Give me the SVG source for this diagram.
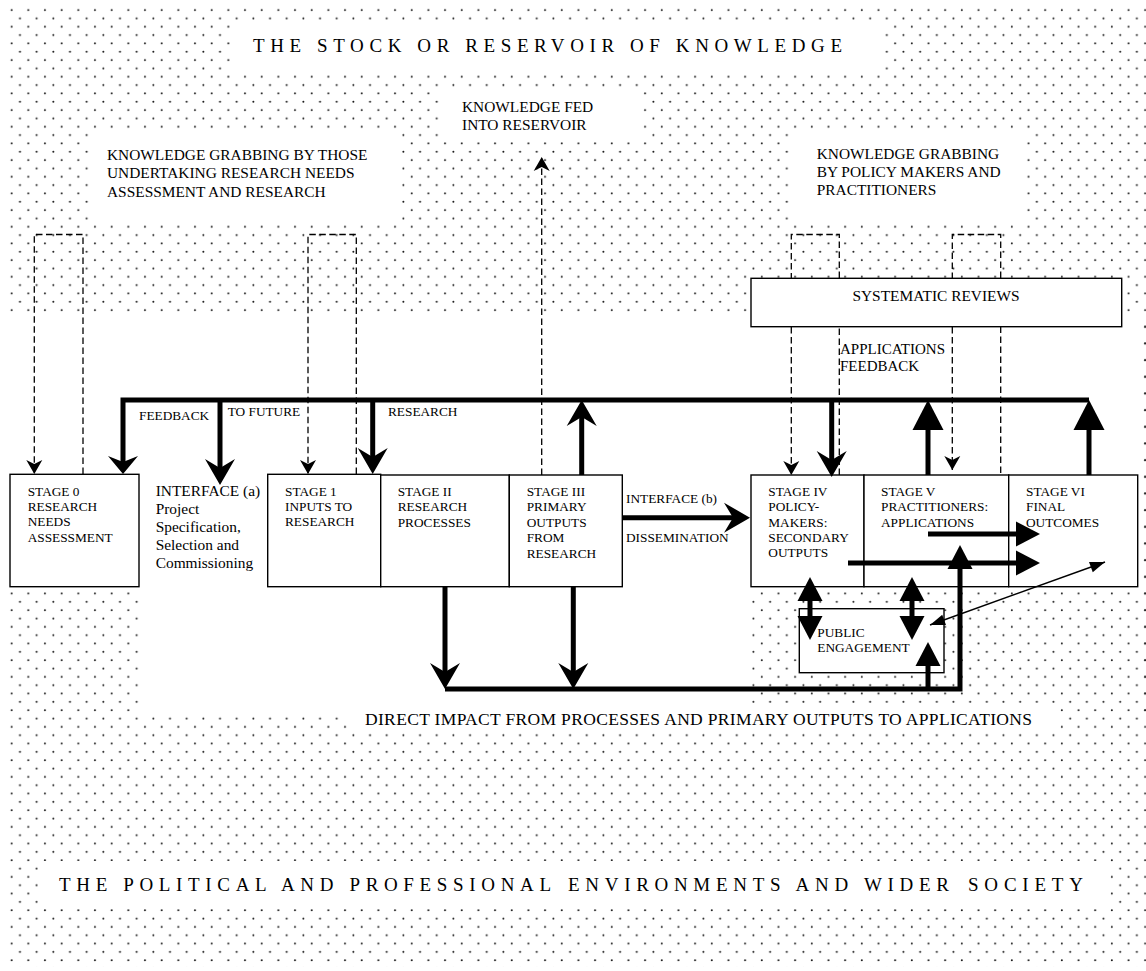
<svg xmlns="http://www.w3.org/2000/svg" width="1146" height="971" viewBox="0 0 1146 971">
<style>
  text { font-family: "Liberation Serif", "Times New Roman", serif; fill: #000; }
  .s13 { font-size: 13.3px; }
  .s15 { font-size: 15.4px; }
  .s17 { font-size: 17.5px; }
  .ttl { font-size: 19px; }
  .box { fill: #fff; stroke: #000; stroke-width: 1.4; }
  .thick { fill: none; stroke: #000; stroke-width: 5; }
  .dash { fill: none; stroke: #000; stroke-width: 1.3; stroke-dasharray: 6.5 3.5; }
  .thin { fill: none; stroke: #000; stroke-width: 1.5; }
  .wh { fill: #fff; }
  .dt { fill: url(#dots); }
</style>
<defs>
  <pattern id="dots" patternUnits="userSpaceOnUse" x="0" y="0" width="16.67" height="16.67">
    <circle cx="3.3" cy="1.65" r="1" fill="#1a1a1a"/>
    <circle cx="11.63" cy="10" r="1" fill="#1a1a1a"/>
  </pattern>
  <marker id="stL" markerUnits="userSpaceOnUse" viewBox="0 -16 28 32" markerWidth="28" markerHeight="32" refX="16" refY="0" orient="auto" overflow="visible">
    <path d="M0,-15 L26,0 L0,15 L9,0 Z" fill="#000"/>
  </marker>
  <marker id="stS" markerUnits="userSpaceOnUse" viewBox="0 -16 20 32" markerWidth="20" markerHeight="32" refX="8" refY="0" orient="auto" overflow="visible">
    <path d="M0,-15 L18,0 L0,15 L6,0 Z" fill="#000"/>
  </marker>
  <marker id="triL" markerUnits="userSpaceOnUse" viewBox="0 -16 31 32" markerWidth="31" markerHeight="32" refX="20" refY="0" orient="auto" overflow="visible">
    <path d="M0,-15.5 L30,0 L0,15.5 Z" fill="#000"/>
  </marker>
  <marker id="triM" markerUnits="userSpaceOnUse" viewBox="0 -13 25 26" markerWidth="25" markerHeight="26" refX="14" refY="0" orient="auto-start-reverse" overflow="visible">
    <path d="M0,-12.5 L24,0 L0,12.5 Z" fill="#000"/>
  </marker>
  <marker id="stD" markerUnits="userSpaceOnUse" viewBox="0 -9 15 18" markerWidth="15" markerHeight="18" refX="14" refY="0" orient="auto" overflow="visible">
    <path d="M0,-8 L14,0 L0,8 L4,0 Z" fill="#000"/>
  </marker>
  <marker id="triS" markerUnits="userSpaceOnUse" viewBox="0 -6 16 12" markerWidth="16" markerHeight="12" refX="15" refY="0" orient="auto-start-reverse" overflow="visible">
    <path d="M0,-5.5 L15,0 L0,5.5 Z" fill="#000"/>
  </marker>
</defs>

<g id="background">
  <rect x="0" y="0" width="1146" height="971" fill="#fff"/>
  <rect class="dt" x="6" y="5" width="1140" height="962"/>
  <rect class="wh" x="233" y="22" width="652" height="52"/>
  <rect class="wh" x="90" y="133" width="307" height="88"/>
  <rect class="wh" x="443" y="90" width="198" height="49"/>
  <rect class="wh" x="793" y="133" width="232" height="88"/>
  <rect class="wh" x="0" y="313" width="1141" height="399"/>
  <rect class="dt" x="6" y="587" width="136" height="125"/>
  <rect class="dt" x="750" y="587" width="396" height="125"/>
  <rect class="dt" x="1141" y="313" width="5" height="274"/>
  <rect class="wh" x="347" y="703" width="713" height="27"/>
  <rect class="wh" x="38" y="861" width="1070" height="47"/>
</g>

<g id="labels">
  <text class="ttl" x="253" y="52" textLength="589" lengthAdjust="spacing">THE STOCK OR RESERVOIR OF KNOWLEDGE</text>
  <g id="kg-left" class="s15">
    <text x="107" y="160">KNOWLEDGE GRABBING BY THOSE</text>
    <text x="107" y="178">UNDERTAKING RESEARCH NEEDS</text>
    <text x="107" y="196.5">ASSESSMENT AND RESEARCH</text>
  </g>
  <g id="kg-fed" class="s15">
    <text x="462" y="112">KNOWLEDGE FED</text>
    <text x="462" y="130">INTO RESERVOIR</text>
  </g>
  <g id="kg-right" class="s15">
    <text x="816.7" y="159">KNOWLEDGE GRABBING</text>
    <text x="816.7" y="177">BY POLICY MAKERS AND</text>
    <text x="816.7" y="195">PRACTITIONERS</text>
  </g>
  <g id="app-feedback" style="font-size:15px">
    <text x="840" y="354">APPLICATIONS</text>
    <text x="840" y="371">FEEDBACK</text>
  </g>
  <text class="s13" x="139" y="420">FEEDBACK</text>
  <text class="s13" x="227.7" y="415.7">TO FUTURE</text>
  <text class="s13" x="388" y="415.7">RESEARCH</text>
  <g id="interface-a" class="s15">
    <text x="155.7" y="496">INTERFACE (a)</text>
    <text x="155.7" y="514.3">Project</text>
    <text x="155.7" y="532.3">Specification,</text>
    <text x="155.7" y="550">Selection and</text>
    <text x="155.7" y="568.3">Commissioning</text>
  </g>
  <g id="interface-b" class="s13">
    <text x="626" y="503">INTERFACE (b)</text>
    <text x="626" y="542">DISSEMINATION</text>
  </g>
  <text class="s17" x="365" y="724.5" textLength="667" lengthAdjust="spacing">DIRECT IMPACT FROM PROCESSES AND PRIMARY OUTPUTS TO APPLICATIONS</text>
  <g id="bottom-title" class="ttl">
    <text x="59" y="891" textLength="492" lengthAdjust="spacing">THE POLITICAL AND  PROFESSIONAL</text>
    <text x="568" y="891" textLength="381" lengthAdjust="spacing">ENVIRONMENTS AND WIDER</text>
    <text x="968" y="891" textLength="115" lengthAdjust="spacing">SOCIETY</text>
  </g>
</g>

<g id="systematic-reviews">
  <rect class="box" x="751" y="278.3" width="370.7" height="48.4"/>
  <text class="s15" x="936" y="301" text-anchor="middle">SYSTEMATIC REVIEWS</text>
</g>

<g id="stage0">
  <rect class="box" x="10" y="474.3" width="129" height="112.4"/>
  <g class="s13"><text x="27.7" y="496">STAGE 0</text><text x="27.7" y="511">RESEARCH</text><text x="27.7" y="526">NEEDS</text><text x="27.7" y="541.5">ASSESSMENT</text></g>
</g>
<g id="stage1">
  <rect class="box" x="267.7" y="474.3" width="113" height="112.4"/>
  <g class="s13"><text x="285" y="496">STAGE 1</text><text x="285" y="511">INPUTS TO</text><text x="285" y="526">RESEARCH</text></g>
</g>
<g id="stage2">
  <rect class="box" x="380.7" y="475" width="128.6" height="111.7"/>
  <g class="s13"><text x="397.7" y="495.5">STAGE II</text><text x="397.7" y="511">RESEARCH</text><text x="397.7" y="526.5">PROCESSES</text></g>
</g>
<g id="stage3">
  <rect class="box" x="509.3" y="475" width="113" height="111.7"/>
  <g class="s13"><text x="526.7" y="495.5">STAGE III</text><text x="526.7" y="511">PRIMARY</text><text x="526.7" y="526.5">OUTPUTS</text><text x="526.7" y="542">FROM</text><text x="526.7" y="557.5">RESEARCH</text></g>
</g>
<g id="stage4">
  <rect class="box" x="751" y="475" width="113" height="111.7"/>
  <g class="s13"><text x="768.3" y="496">STAGE IV</text><text x="768.3" y="511.3">POLICY-</text><text x="768.3" y="526.6">MAKERS:</text><text x="768.3" y="542">SECONDARY</text><text x="768.3" y="557.3">OUTPUTS</text></g>
</g>
<g id="stage5">
  <rect class="box" x="864" y="475" width="144.7" height="111.7"/>
  <g class="s13"><text x="881" y="496">STAGE V</text><text x="881" y="511.3">PRACTITIONERS:</text><text x="881" y="526.6">APPLICATIONS</text></g>
</g>
<g id="stage6">
  <rect class="box" x="1008.7" y="475" width="129" height="111.7"/>
  <g class="s13"><text x="1026" y="496">STAGE VI</text><text x="1026" y="511.3">FINAL</text><text x="1026" y="526.6">OUTCOMES</text></g>
</g>
<g id="public-engagement">
  <rect class="box" x="799.3" y="608.7" width="144.7" height="64"/>
  <g class="s13"><text x="817.3" y="636.7">PUBLIC</text><text x="817.3" y="651.7">ENGAGEMENT</text></g>
</g>

<g id="connectors">
  <path class="dash" d="M83,474 V234.5 H34.3 V474" marker-end="url(#stD)"/>
  <path class="dash" d="M356.3,474 V234.5 H308 V474" marker-end="url(#stD)"/>
  <path class="dash" d="M839.3,475 V327 M839.3,278 V234.5 H791.3 V278 M791.3,327 V475" marker-end="url(#stD)"/>
  <path class="dash" d="M1000.7,473 V327 M1000.7,278 V234.5 H952.3 V278 M952.3,327 V470" marker-end="url(#stD)"/>
  <path class="dash" d="M541.7,475 V157" marker-end="url(#stD)"/>

  <path class="thick" d="M1089,400 H123 V464" marker-end="url(#stS)"/>
  <path class="thick" d="M220,400 V475" marker-end="url(#stL)"/>
  <path class="thick" d="M372.7,400 V464" marker-end="url(#stL)"/>
  <path class="thick" d="M831.7,400 V467" marker-end="url(#stL)"/>
  <path class="thick" d="M581.7,475 V410" marker-end="url(#stL)"/>
  <path class="thick" d="M928,475 V410" marker-end="url(#triL)"/>
  <path class="thick" d="M1089,475 V410" marker-end="url(#triL)"/>
  <path class="thick" d="M445,587 V679" marker-end="url(#stL)"/>
  <path class="thick" d="M573.3,587 V679" marker-end="url(#stL)"/>
  <path class="thick" d="M622,517.7 H740" marker-end="url(#stL)"/>
  <path class="thick" d="M445,689 H960 V555" marker-end="url(#triM)"/>
  <path class="thick" d="M928,689 V652" marker-end="url(#triM)"/>
  <path class="thick" d="M928,534 H1030" marker-end="url(#triM)"/>
  <path class="thick" d="M848,563 H1030" marker-end="url(#triM)"/>
  <path class="thick" d="M810,587 V630" marker-start="url(#triM)" marker-end="url(#triM)"/>
  <path class="thick" d="M912,587 V630" marker-start="url(#triM)" marker-end="url(#triM)"/>
  <path class="thin" d="M930,625 L1105,562" marker-start="url(#triS)" marker-end="url(#triS)"/>
</g>
</svg>
